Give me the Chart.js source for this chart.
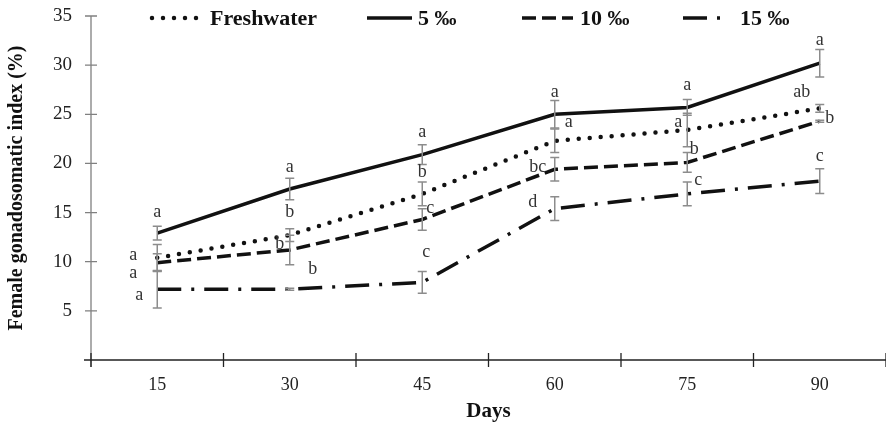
<!DOCTYPE html>
<html>
<head>
<meta charset="utf-8">
<script src="https://cdn.jsdelivr.net/npm/chart.js@4.4.0/dist/chart.umd.min.js"></script>
<style>
  html, body { margin: 0; padding: 0; background: #fff; overflow: hidden; }
  #wrap { width: 886px; height: 431px; }
</style>
</head>
<body>
<div id="wrap"><canvas id="gsiChart"></canvas></div>
<script>
document.addEventListener('DOMContentLoaded', function () {
    // data
    const days = ['15', '30', '45', '60', '75', '90'];
    const seriesNames = ['Freshwater', '5 ‰', '10 ‰', '15 ‰'];

    const freshwater = [10.4, 12.7, 16.9, 22.3, 23.4, 25.6];
    const salt5 = [12.9, 17.4, 20.9, 25.0, 25.7, 30.2];
    const salt10 = [9.9, 11.2, 14.3, 19.4, 20.1, 24.3];
    const salt15 = [7.2, 7.2, 7.9, 15.4, 16.9, 18.2];

    const freshwaterErr = [1.35, 0.65, 1.2, 1.2, 1.7, 0.4];
    const salt5Err = [0.7, 1.1, 1.0, 1.4, 0.8, 1.4];
    const salt10Err = [0.9, 1.5, 1.1, 1.2, 1.0, 0.1];
    const salt15Err = [1.9, 0.1, 1.1, 1.2, 1.2, 1.25];

    const freshwaterLetters = ['a', 'b', 'b', 'a', 'a', 'ab'];
    const salt5Letters = ['a', 'a', 'a', 'a', 'a', 'a'];
    const salt10Letters = ['a', 'b', 'c', 'bc', 'b', 'b'];
    const salt15Letters = ['a', 'b', 'c', 'd', 'c', 'c'];

    const yTicks = [5, 10, 15, 20, 25, 30, 35];

    // where each letter sits relative to its point (px)
    const letterOffsets = [
        [[-24, -3], [0, -23], [0, -22], [14, -19], [-9, -8], [-18, -16]],
        [[0, -21], [0, -22], [0, -22], [0, -22], [0, -22], [0, -23]],
        [[-24, 11], [-10, -6], [8, -11], [-17, -2], [7, -13], [10, -3]],
        [[-18, 6], [23, -20], [4, -30], [-22, -6], [11, -14], [0, -25]]
    ];

    const serif = '"Liberation Serif", "Times New Roman", serif';
    const dashes = [[0, 11], [], [14, 6], [24, 10, 3, 10]];
    const widths = [4.5, 3.5, 3.5, 3.5];

    const errors = [freshwaterErr, salt5Err, salt10Err, salt15Err];
    const letters = [freshwaterLetters, salt5Letters, salt10Letters, salt15Letters];

    function makeDataset(label, data, i) {
        return {
            label: label,
            data: data,
            borderColor: '#111',
            borderWidth: widths[i],
            borderDash: dashes[i],
            borderCapStyle: i === 0 ? 'round' : 'butt',
            pointRadius: 0,
            fill: false,
            tension: 0
        };
    }

    const errorBars = {
        id: 'errorBars',
        afterDatasetsDraw(chart) {
            const ctx = chart.ctx;
            const x = chart.scales.x;
            const y = chart.scales.y;
            ctx.save();
            ctx.strokeStyle = '#8c8c8c';
            ctx.lineWidth = 1.5;
            ctx.setLineDash([]);
            chart.data.datasets.forEach((ds, i) => {
                ds.data.forEach((v, j) => {
                    const px = x.getPixelForValue(j);
                    const top = y.getPixelForValue(v + errors[i][j]);
                    const bot = y.getPixelForValue(v - errors[i][j]);
                    ctx.beginPath();
                    ctx.moveTo(px, top); ctx.lineTo(px, bot);
                    ctx.moveTo(px - 4.5, top); ctx.lineTo(px + 4.5, top);
                    ctx.moveTo(px - 4.5, bot); ctx.lineTo(px + 4.5, bot);
                    ctx.stroke();
                });
            });
            // letters of significance
            ctx.fillStyle = '#333';
            ctx.font = '18px ' + serif;
            ctx.textAlign = 'center';
            ctx.textBaseline = 'middle';
            chart.data.datasets.forEach((ds, i) => {
                ds.data.forEach((v, j) => {
                    const px = x.getPixelForValue(j);
                    const py = y.getPixelForValue(v);
                    const off = letterOffsets[i][j];
                    ctx.fillText(letters[i][j], px + off[0], py + off[1]);
                });
            });
            ctx.restore();
        }
    };

    const axesAndLegend = {
        id: 'axesAndLegend',
        afterDraw(chart) {
            const ctx = chart.ctx;
            const area = chart.chartArea;
            const y = chart.scales.y;
            ctx.save();
            // y axis
            ctx.strokeStyle = '#808080';
            ctx.lineWidth = 1.3;
            ctx.beginPath();
            ctx.moveTo(area.left, y.getPixelForValue(35));
            ctx.lineTo(area.left, area.bottom + 7);
            yTicks.forEach(t => {
                const py = y.getPixelForValue(t);
                ctx.moveTo(area.left - 6, py);
                ctx.lineTo(area.left + 6, py);
            });
            ctx.stroke();
            // x axis
            ctx.strokeStyle = '#222';
            ctx.beginPath();
            ctx.moveTo(area.left - 7, area.bottom);
            ctx.lineTo(chart.width, area.bottom);
            const band = (area.right - area.left) / days.length;
            for (let k = 0; k <= days.length; k++) {
                const px = area.left + k * band;
                ctx.moveTo(px, area.bottom - 7);
                ctx.lineTo(px, area.bottom + 7);
            }
            ctx.stroke();

            // legend
            const starts = [152, 367, 522, 683];
            const sampleLen = [51, 45, 51, 40];
            const textX = [210, 418, 580, 740];
            const ly = 18;
            ctx.font = 'bold 22px ' + serif;
            ctx.fillStyle = '#111';
            ctx.textBaseline = 'middle';
            ctx.textAlign = 'left';
            chart.data.datasets.forEach((ds, i) => {
                ctx.strokeStyle = '#111';
                ctx.lineWidth = widths[i];
                ctx.lineCap = i === 0 ? 'round' : 'butt';
                ctx.setLineDash(dashes[i]);
                ctx.beginPath();
                ctx.moveTo(starts[i], ly);
                ctx.lineTo(starts[i] + sampleLen[i], ly);
                ctx.stroke();
                ctx.fillText(ds.label, textX[i], ly + 1);
            });
            ctx.restore();
        }
    };

    const gsiChart = new Chart(document.getElementById('gsiChart').getContext('2d'), {
        type: 'line',
        data: {
            labels: days,
            datasets: [
                makeDataset(seriesNames[0], freshwater, 0),
                makeDataset(seriesNames[1], salt5, 1),
                makeDataset(seriesNames[2], salt10, 2),
                makeDataset(seriesNames[3], salt15, 3)
            ]
        },
        options: {
            responsive: true,
            maintainAspectRatio: false,
            animation: false,
            layout: { padding: { top: 16, right: 0, left: 0, bottom: 0 } },
            plugins: {
                legend: { display: false },
                tooltip: { enabled: false }
            },
            scales: {
                x: {
                    offset: true,
                    grid: { display: false, drawTicks: false },
                    border: { display: false },
                    ticks: {
                        color: '#222',
                        padding: 14,
                        font: { family: serif, size: 18 }
                    },
                    title: {
                        display: true,
                        text: 'Days',
                        color: '#111',
                        padding: { top: 0, bottom: 7 },
                        font: { family: serif, size: 21, weight: 'bold' }
                    },
                    afterFit(scale) { scale.height = 71; }
                },
                y: {
                    min: 0,
                    max: 35,
                    grid: { display: false, drawTicks: false },
                    border: { display: false },
                    ticks: {
                        stepSize: 5,
                        color: '#222',
                        padding: 19,
                        font: { family: serif, size: 19 },
                        callback: v => (v === 0 ? '' : v)
                    },
                    title: {
                        display: true,
                        text: 'Female gonadosomatic index (%)',
                        color: '#111',
                        padding: { top: 5, bottom: 0 },
                        font: { family: serif, size: 20, weight: 'bold' }
                    },
                    afterFit(scale) {
                        scale.width = 91;
                        scale.paddingTop = 0;
                        scale.paddingBottom = 0;
                    }
                }
            }
        },
        plugins: [errorBars, axesAndLegend]
    });
});
</script>
</body>
</html>
